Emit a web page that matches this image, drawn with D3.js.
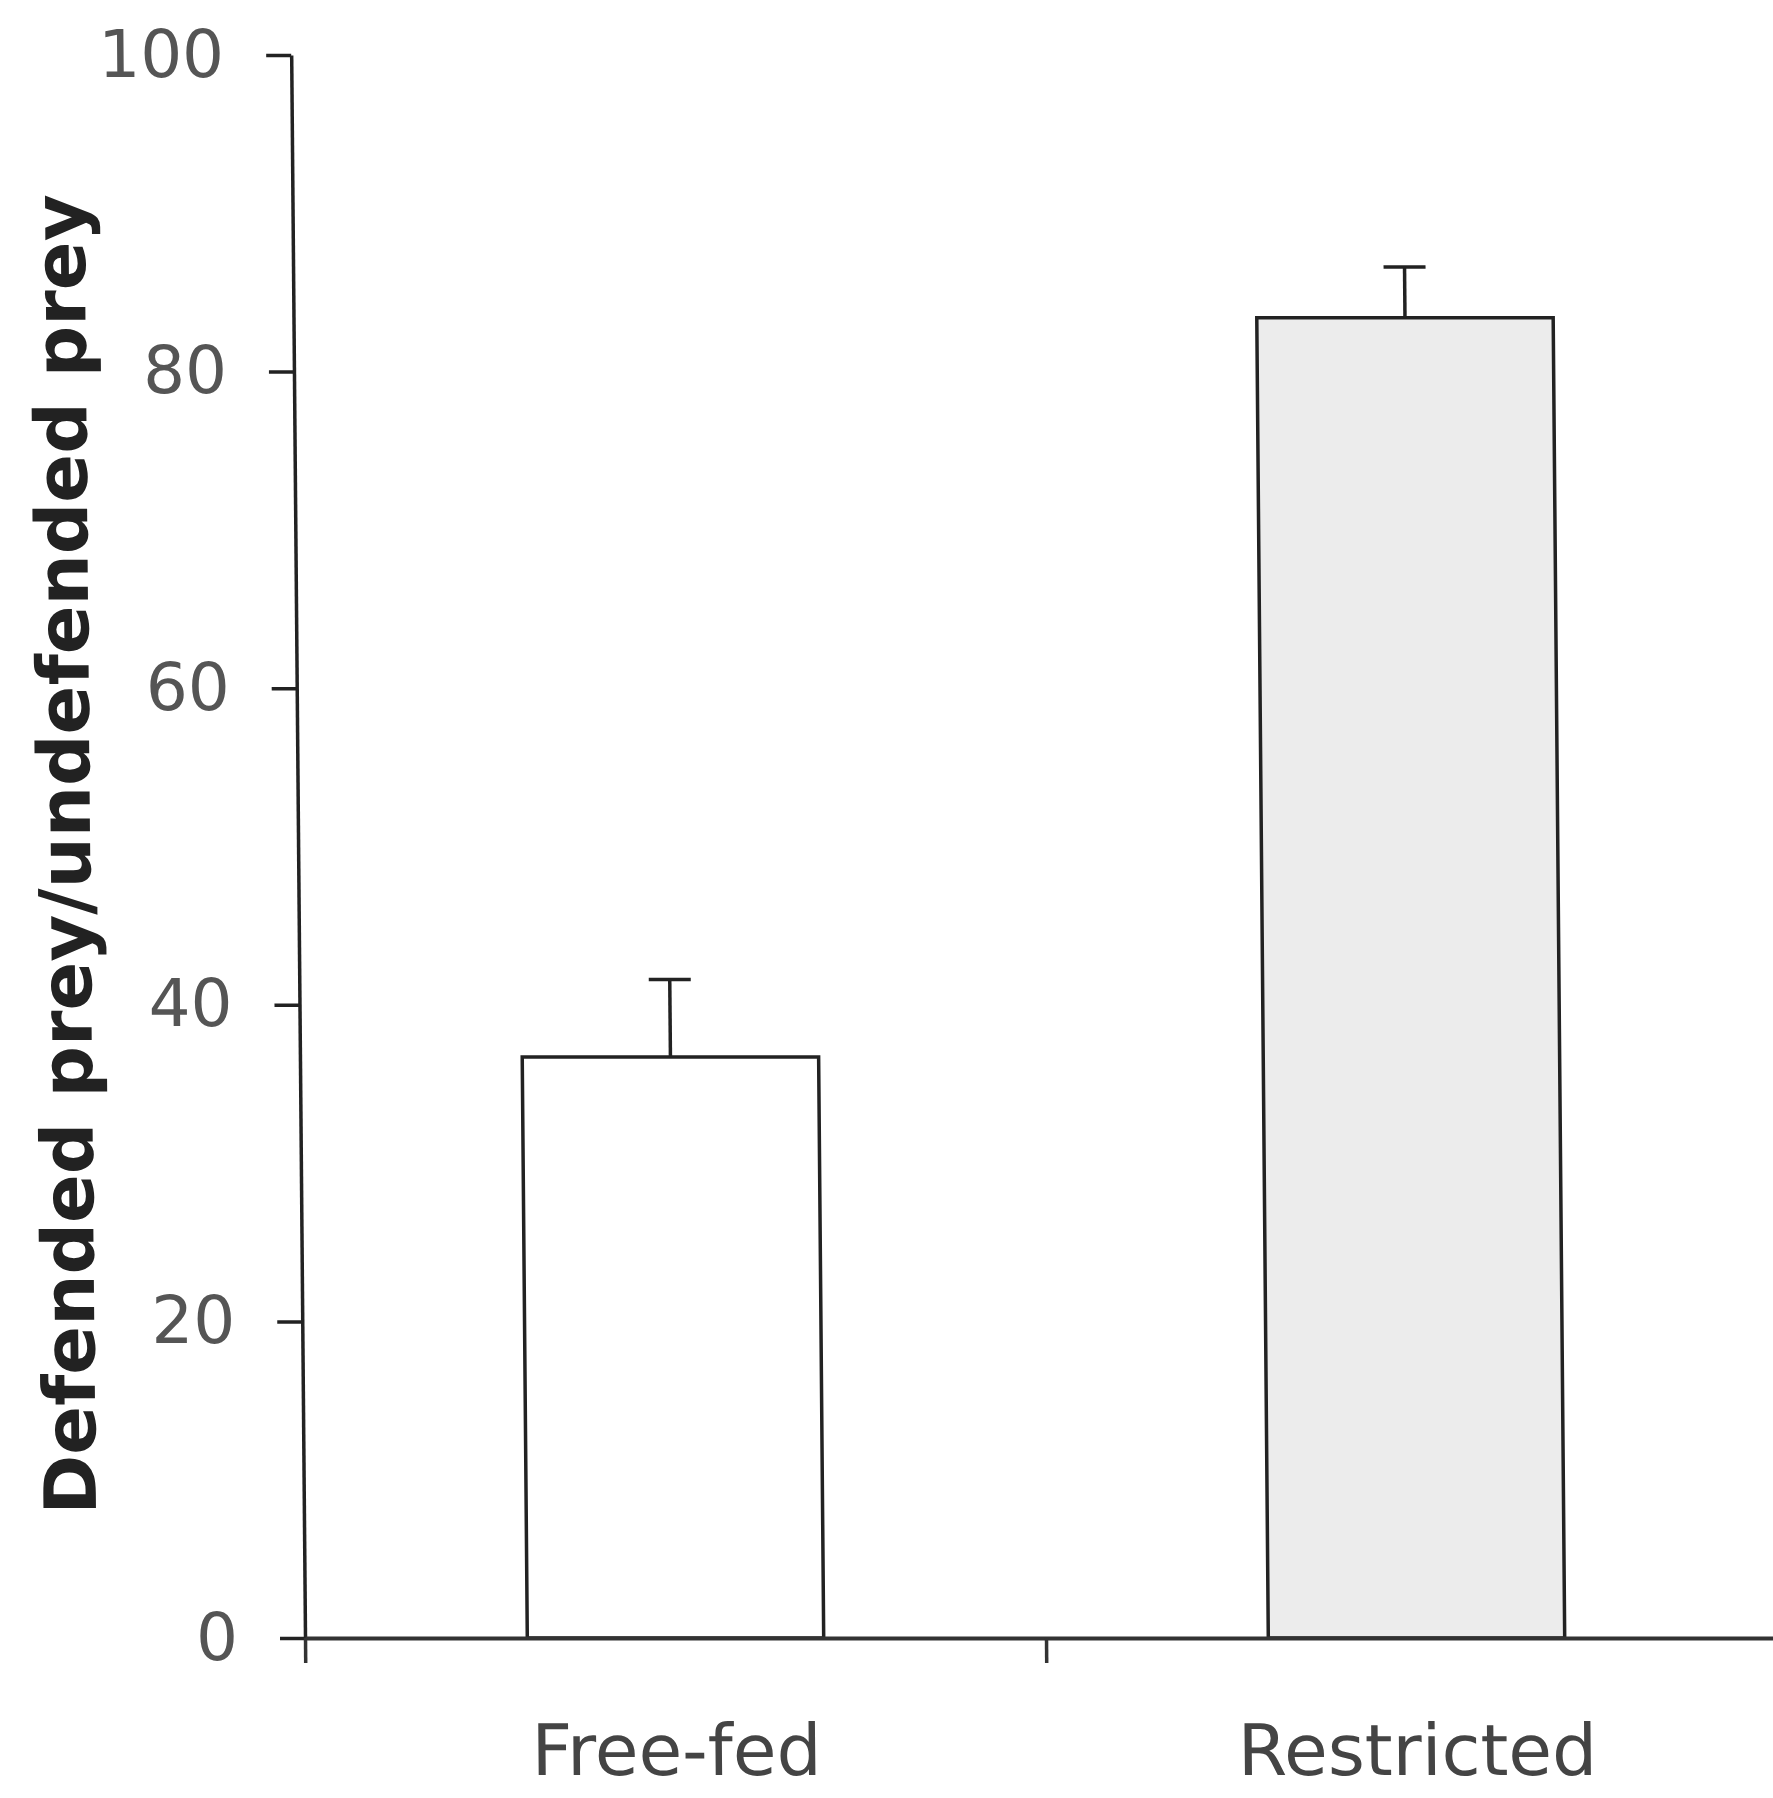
<!DOCTYPE html>
<html>
<head>
<meta charset="utf-8">
<script src="https://cdn.jsdelivr.net/npm/d3@7"></script>
<style>
    html, body { margin: 0; padding: 0; background: #fff; }
    svg { display: block; }
</style>
</head>
<body>
<div id="chart"></div>
<script>
// 数据
const categories = ["Free-fed", "Restricted"];
const means = [36.7, 83.4];
const errorTops = [41.6, 86.6];
const barFills = ["#ffffff", "#ececec"];
const yTicks = [0, 20, 40, 60, 80, 100];
const yLabel = "Defended prey/undefended prey";

const width = 1773, height = 1798;
const plotLeft = 305, plotRight = 1787, plotTop = 55, plotBottom = 1638;

const svg = d3.select("#chart")
    .append("svg")
    .attr("width", width)
    .attr("height", height);

// 扫描件略有倾斜
const g = svg.append("g")
    .attr("transform", `translate(0,${plotBottom}) skewX(0.5) translate(0,${-plotBottom})`);

const x = d3.scaleBand()
    .domain(categories)
    .range([plotLeft, plotRight])
    .paddingInner(0.6)
    .paddingOuter(0.3);

const xEdges = d3.scaleLinear()
    .domain([0, categories.length])
    .range([plotLeft, plotRight]);

const y = d3.scaleLinear()
    .domain([0, 100])
    .range([plotBottom, plotTop]);

// 柱子
g.selectAll("rect.bar")
    .data(categories)
    .enter()
    .append("rect")
    .attr("class", "bar")
    .attr("x", d => x(d))
    .attr("y", (d, i) => y(means[i]))
    .attr("width", x.bandwidth())
    .attr("height", (d, i) => y(0) - y(means[i]))
    .attr("fill", (d, i) => barFills[i])
    .attr("stroke", "#222")
    .attr("stroke-width", 3.5);

// 误差线
const err = g.append("g").attr("class", "errors");
categories.forEach((c, i) => {
    const cx = x(c) + x.bandwidth() / 2;
    err.append("line")
        .attr("x1", cx).attr("x2", cx)
        .attr("y1", y(means[i])).attr("y2", y(errorTops[i]))
        .attr("stroke", "#222").attr("stroke-width", 3.5);
    err.append("line")
        .attr("x1", cx - 21).attr("x2", cx + 21)
        .attr("y1", y(errorTops[i])).attr("y2", y(errorTops[i]))
        .attr("stroke", "#222").attr("stroke-width", 3.5);
});

// Y轴
const yAxis = g.append("g")
    .attr("transform", `translate(${plotLeft},0)`)
    .call(d3.axisLeft(y).tickValues(yTicks).tickSize(25).tickSizeOuter(0).tickPadding(42));
yAxis.select(".domain").attr("stroke", "#222").attr("stroke-width", 3.5);
yAxis.selectAll(".tick line").attr("stroke", "#222").attr("stroke-width", 3.5);
yAxis.selectAll(".tick text")
    .attr("font-family", "'DejaVu Sans', Verdana, sans-serif")
    .attr("font-size", 66)
    .attr("fill", "#555");

// X轴（刻度在类别边界）
const xAxis = g.append("g")
    .attr("transform", `translate(0,${plotBottom})`)
    .call(d3.axisBottom(xEdges).ticks(categories.length).tickFormat("").tickSize(25).tickSizeOuter(0));
xAxis.select(".domain").attr("stroke", "#333").attr("stroke-width", 4);
xAxis.selectAll(".tick line").attr("stroke", "#333").attr("stroke-width", 3.5);

// 类别标签
g.selectAll("text.cat")
    .data(categories)
    .enter()
    .append("text")
    .attr("class", "cat")
    .attr("x", d => x(d) + x.bandwidth() / 2)
    .attr("y", 1775)
    .attr("text-anchor", "middle")
    .attr("font-family", "'DejaVu Sans', Verdana, sans-serif")
    .attr("font-size", 71)
    .attr("fill", "#444")
    .text(d => d);

// Y轴标题
g.append("text")
    .attr("transform", `translate(97,${(195 + 1514) / 2}) rotate(-90)`)
    .attr("text-anchor", "middle")
    .attr("font-family", "'DejaVu Sans', Verdana, sans-serif")
    .attr("font-weight", "bold")
    .attr("font-size", 72)
    .attr("fill", "#222")
    .text(yLabel);
</script>
</body>
</html>
